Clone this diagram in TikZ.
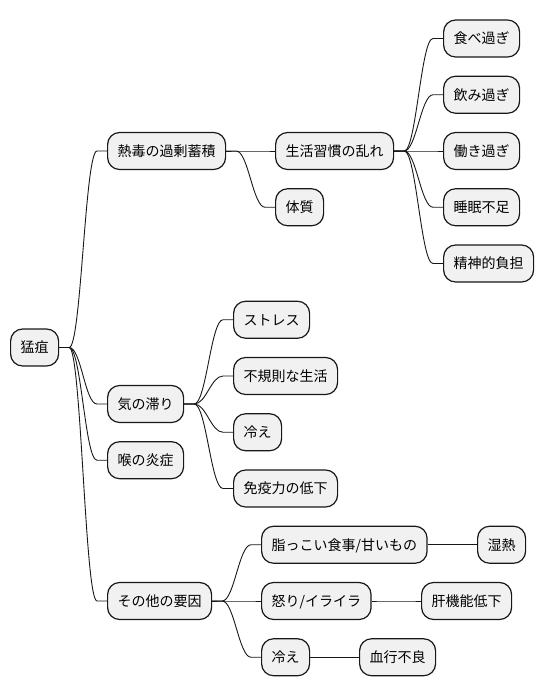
\documentclass[tikz,border=0pt]{standalone}
\usepackage{fontspec}
\setmainfont{Noto Sans CJK JP}
\usetikzlibrary{calc}
\definecolor{boxfill}{HTML}{F1F1F1}
\definecolor{boxline}{HTML}{181818}
\tikzset{
  mmbox/.style={draw=boxline, fill=boxfill, line width=1.2pt, rounded corners=12pt,
    minimum height=37pt, inner xsep=10pt, inner ysep=0pt, anchor=west,
    text height=12.3pt, text depth=1.7pt, font=\fontsize{14pt}{16pt}\selectfont},
  mmline/.style={draw=boxline, line width=0.9pt}
}
\newcommand\mmconn[2]{%
  \draw[mmline] let \p1=(#1.east), \p2=(#2.west) in
    (\p1) -- (\x1+10pt,\y1) .. controls (\x1+22pt,\y1) and (\x2-22pt,\y2) .. (\x2-10pt,\y2) -- (\p2);}
\begin{document}
\begin{tikzpicture}[x=1pt,y=-1pt]
\useasboundingbox (0,0) rectangle (544,696);
\def\r#1{\fpeval{38.5+56.25*#1}}
% level 0
\node[mmbox] (root) at (10,347.5) {猛疽};
% level 1
\node[mmbox] (a) at (107,\r{2}) {熱毒の過剰蓄積};
\node[mmbox] (b) at (107,404) {気の滞り};
\node[mmbox] (c) at (107,460.2) {喉の炎症};
\node[mmbox] (d) at (107,\r{10}) {その他の要因};
% level 2
\node[mmbox] (a1) at (275,\r{2}) {生活習慣の乱れ};
\node[mmbox] (a2) at (275,\r{3}) {体質};
\node[mmbox] (b1) at (233,\r{5}) {ストレス};
\node[mmbox] (b2) at (233,\r{6}) {不規則な生活};
\node[mmbox] (b3) at (233,\r{7}) {冷え};
\node[mmbox] (b4) at (233,\r{8}) {免疫力の低下};
\node[mmbox] (d1) at (261,\r{9}) {脂っこい食事/甘いもの};
\node[mmbox] (d2) at (261,\r{10}) {怒り/イライラ};
\node[mmbox] (d3) at (261,\r{11}) {冷え};
% level 3
\node[mmbox] (a11) at (443,\r{0}) {食べ過ぎ};
\node[mmbox] (a12) at (443,\r{1}) {飲み過ぎ};
\node[mmbox] (a13) at (443,\r{2}) {働き過ぎ};
\node[mmbox] (a14) at (443,\r{3}) {睡眠不足};
\node[mmbox] (a15) at (443,\r{4}) {精神的負担};
\node[mmbox] (d11) at (477,\r{9}) {湿熱};
\node[mmbox] (d21) at (421,\r{10}) {肝機能低下};
\node[mmbox] (d31) at (359,\r{11}) {血行不良};
% connectors
\mmconn{root}{a}\mmconn{root}{b}\mmconn{root}{c}\mmconn{root}{d}
\mmconn{a}{a1}\mmconn{a}{a2}
\mmconn{a1}{a11}\mmconn{a1}{a12}\mmconn{a1}{a13}\mmconn{a1}{a14}\mmconn{a1}{a15}
\mmconn{b}{b1}\mmconn{b}{b2}\mmconn{b}{b3}\mmconn{b}{b4}
\mmconn{d}{d1}\mmconn{d}{d2}\mmconn{d}{d3}
\mmconn{d1}{d11}\mmconn{d2}{d21}\mmconn{d3}{d31}
\end{tikzpicture}
\end{document}
